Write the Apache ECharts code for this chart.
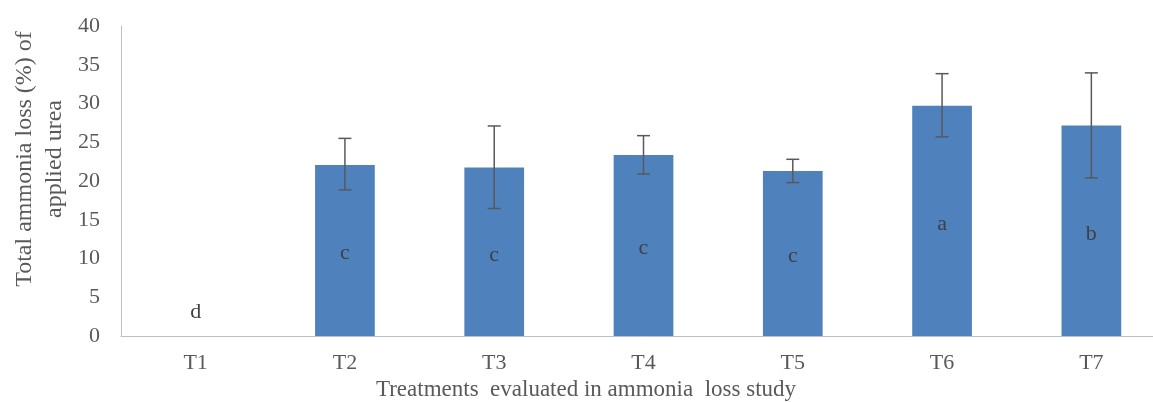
<!DOCTYPE html>
<html><head><meta charset="utf-8">
<script src="https://cdn.jsdelivr.net/npm/echarts@6/dist/echarts.min.js"></script>
<style>html,body{margin:0;padding:0;background:#fff;overflow:hidden}#c{width:1180px;height:402px}</style>
</head><body><div id="c"></div>
<script>
const categories = ['T1','T2','T3','T4','T5','T6','T7'];
const values = [0, 22.05, 21.75, 23.35, 21.3, 29.7, 27.15];
const errLow = [0, 18.85, 16.45, 20.9, 19.8, 25.7, 20.4];
const errHigh = [0, 25.5, 27.1, 25.85, 22.8, 33.85, 33.95];
const letters = ['d','c','c','c','c','a','b'];
const yTicks = [0,5,10,15,20,25,30,35,40];

const font = 'Liberation Serif';
const chart = echarts.init(document.getElementById('c'));
const barData = values.map((v,i)=> i===0 ? {value:v, label:{position:'top', distance:13, offset:[0,0]}} : v);
const errData = categories.map((c,i)=> errHigh[i] > 0 ? [i, errLow[i], errHigh[i]] : null).filter(d=>d);
chart.setOption({
  animation:false,
  grid:{left:121, top:26, width:1045, height:310},
  xAxis:{type:'category', data:categories,
    axisLine:{lineStyle:{color:'#bfbfbf', width:1}}, axisTick:{show:false},
    axisLabel:{color:'#595959', fontFamily:font, fontSize:22, margin:16}},
  yAxis:{type:'value', min:0, max:40, interval:5,
    axisLine:{show:true, lineStyle:{color:'#bfbfbf', width:1}}, axisTick:{show:false},
    splitLine:{show:false},
    axisLabel:{color:'#595959', fontFamily:font, fontSize:22, margin:21,
      formatter:v=> yTicks.includes(v) ? String(v) : ''}},
  graphic:[
    {type:'text', x:586, y:390, style:{text:'Treatments  evaluated in ammonia  loss study', fill:'#595959', font:'23px "Liberation Serif"', textAlign:'center', textVerticalAlign:'middle'}},
    {type:'text', x:40, y:159, rotation:Math.PI/2, style:{text:'Total ammonia loss (%) of\napplied urea', fill:'#595959', font:'24px "Liberation Serif"', textAlign:'center', textVerticalAlign:'middle', lineHeight:30}}
  ],
  series:[
    {type:'bar', data:barData, barWidth:'40%', itemStyle:{color:'#4f81bd'},
      label:{show:true, position:'inside', offset:[0,3], color:'#404040', fontFamily:font, fontSize:22,
        formatter:p=>letters[p.dataIndex]}},
    {type:'custom', data:errData, z:5,
      renderItem:function(params, api){
        const x = api.value(0);
        const lo = api.coord([x, api.value(1)]);
        const hi = api.coord([x, api.value(2)]);
        const hw = 6.5;
        const st = {stroke:'#595959', lineWidth:1.5};
        return {type:'group', children:[
          {type:'line', shape:{x1:hi[0], y1:hi[1], x2:lo[0], y2:lo[1]}, style:st},
          {type:'line', shape:{x1:hi[0]-hw, y1:hi[1], x2:hi[0]+hw, y2:hi[1]}, style:st},
          {type:'line', shape:{x1:lo[0]-hw, y1:lo[1], x2:lo[0]+hw, y2:lo[1]}, style:st}
        ]};
      }}
  ]
});
</script></body></html>
